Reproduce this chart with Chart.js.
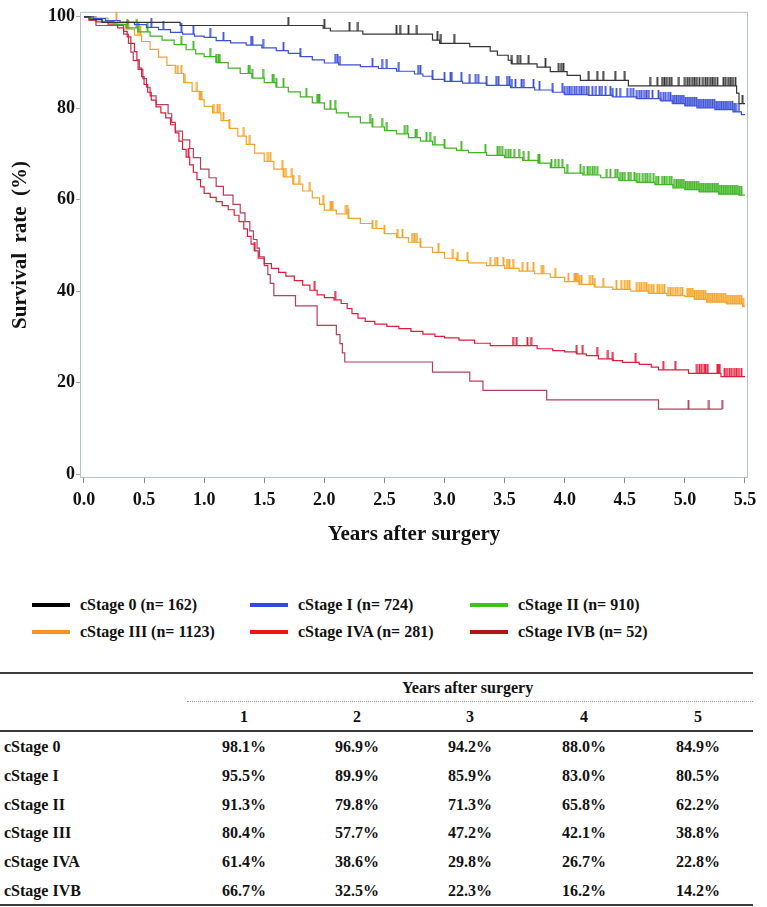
<!DOCTYPE html>
<html>
<head>
<meta charset="utf-8">
<script src="https://cdn.jsdelivr.net/npm/chart.js@4.4.0/dist/chart.umd.min.js"></script>
<style>
  body { margin: 0; background: #fff; width: 767px; height: 907px; position: relative; overflow: hidden;
         font-family: "Liberation Serif", "Times New Roman", serif; font-weight: bold; color: #111; }
  #kmChart { position: absolute; left: 0; top: 0; }
  .lg { position: absolute; font-size: 16px; line-height: 20px; white-space: nowrap; }
  .sw { position: absolute; width: 38px; height: 4px; }
  .cell { position: absolute; font-size: 16px; line-height: 20px; white-space: nowrap; }
  .num { text-align: center; width: 113px; }
  .rule { position: absolute; left: 0; width: 753px; background: #3a3a3a; }
</style>
</head>
<body>
<canvas id="kmChart" width="767" height="560"></canvas>
<div id="legend"></div>
<div id="table"></div>
<script>
// groups
var groupNames = ["cStage 0", "cStage I", "cStage II", "cStage III", "cStage IVA", "cStage IVB"];
var groupN = [162, 724, 910, 1123, 281, 52];
var lineColors = ["#333333", "#3b4fd8", "#3db420", "#f5a326", "#e31b3b", "#b43f59"];
var legendColors = ["#000000", "#3348e6", "#40c21e", "#f8921f", "#ee1414", "#b11414"];

// axis ticks
var xTicks = [0, 0.5, 1, 1.5, 2, 2.5, 3, 3.5, 4, 4.5, 5, 5.5];
var xTickLabels = ["0.0", "0.5", "1.0", "1.5", "2.0", "2.5", "3.0", "3.5", "4.0", "4.5", "5.0", "5.5"];
var yTicks = [0, 20, 40, 60, 80, 100];
var yTickLabels = ["0", "20", "40", "60", "80", "100"];

// Kaplan-Meier steps [years, survival %]
var stage0Steps = [[0, 100], [0.05, 99.4], [0.15, 98.8], [0.8, 98.1], [1.99, 97.5], [2.05, 96.9], [2.32, 96.2],
  [2.9, 94.9], [2.96, 94.2], [3.21, 93.5], [3.38, 92.5], [3.44, 91.6], [3.53, 90.5], [3.56, 89.7], [3.77, 89.0],
  [3.88, 88.0], [4.02, 87.2], [4.13, 86.1], [4.53, 84.9], [5.43, 83.3], [5.45, 81.0], [5.5, 81.0]];
var stage1Steps = [[0, 100], [0.08, 99.6], [0.18, 99.2], [0.3, 98.8], [0.42, 98.3], [0.52, 97.7], [0.62, 97.2],
  [0.72, 96.6], [0.82, 96.2], [0.92, 95.8], [1.0, 95.5], [1.1, 94.8], [1.22, 94.3], [1.35, 93.8], [1.48, 93.2],
  [1.6, 92.6], [1.7, 92.0], [1.8, 91.3], [1.9, 90.6], [2.0, 89.9], [2.12, 89.5], [2.3, 89.1], [2.45, 88.7],
  [2.6, 88.1], [2.75, 87.5], [2.82, 87.0], [2.9, 86.3], [3.0, 85.9], [3.15, 85.5], [3.35, 85.0], [3.55, 84.5],
  [3.75, 84.0], [3.9, 83.5], [4.0, 83.0], [4.2, 82.8], [4.4, 82.5], [4.6, 82.1], [4.8, 81.6], [4.9, 81.0],
  [5.0, 80.5], [5.1, 80.1], [5.25, 79.7], [5.4, 79.2], [5.47, 78.6], [5.5, 78.6]];
var stage2Steps = [[0, 100], [0.06, 99.6], [0.15, 99.0], [0.25, 98.3], [0.35, 97.6], [0.45, 96.7], [0.55, 95.8],
  [0.65, 94.9], [0.75, 93.9], [0.85, 92.8], [0.93, 91.9], [1.0, 91.3], [1.1, 90.0], [1.2, 88.8], [1.3, 87.6],
  [1.4, 86.6], [1.5, 85.6], [1.6, 84.6], [1.7, 83.6], [1.8, 82.5], [1.9, 81.2], [2.0, 79.8], [2.1, 79.0],
  [2.2, 78.1], [2.3, 76.8], [2.4, 75.9], [2.5, 75.1], [2.6, 74.4], [2.7, 73.6], [2.8, 72.8], [2.9, 72.0],
  [3.0, 71.3], [3.1, 70.8], [3.2, 70.3], [3.35, 69.7], [3.5, 69.2], [3.65, 68.6], [3.78, 68.0], [3.88, 67.0],
  [4.0, 65.8], [4.15, 65.4], [4.3, 64.8], [4.45, 64.2], [4.6, 63.8], [4.75, 63.3], [4.9, 62.6], [5.0, 62.2],
  [5.12, 61.7], [5.28, 61.2], [5.45, 61.0], [5.5, 61.0]];
var stage3Steps = [[0, 100], [0.1, 99.7], [0.2, 99.2], [0.28, 98.4], [0.35, 97.3], [0.42, 96.0], [0.48, 94.6],
  [0.55, 92.9], [0.62, 91.2], [0.69, 89.4], [0.76, 87.6], [0.83, 85.6], [0.9, 83.7], [0.96, 81.9], [1.0, 80.4],
  [1.07, 79.0], [1.14, 77.3], [1.21, 75.6], [1.28, 73.9], [1.35, 72.1], [1.42, 70.2], [1.5, 68.4], [1.58, 66.7],
  [1.66, 65.0], [1.74, 63.4], [1.82, 61.9], [1.9, 60.4], [1.96, 59.0], [2.0, 57.7], [2.1, 56.9], [2.2, 55.9],
  [2.3, 54.8], [2.4, 53.7], [2.5, 52.6], [2.6, 51.7], [2.7, 50.7], [2.8, 49.6], [2.9, 48.5], [3.0, 47.2],
  [3.1, 46.7], [3.2, 46.2], [3.35, 45.6], [3.5, 45.0], [3.62, 44.4], [3.75, 43.8], [3.88, 43.0], [4.0, 42.1],
  [4.12, 41.5], [4.25, 40.9], [4.4, 40.4], [4.55, 40.0], [4.7, 39.5], [4.85, 39.0], [5.0, 38.8], [5.08, 38.2],
  [5.18, 37.6], [5.35, 37.2], [5.48, 36.6], [5.5, 36.6]];
var stage4aSteps = [[0, 100], [0.04, 99.3], [0.1, 98.9], [0.2, 98.4], [0.28, 97.6], [0.33, 96.8], [0.36, 95.6],
  [0.39, 94.2], [0.42, 92.4], [0.44, 90.6], [0.46, 88.8], [0.48, 86.9], [0.5, 85.2], [0.53, 83.5], [0.56, 81.8],
  [0.6, 80.3], [0.64, 79.0], [0.68, 77.9], [0.72, 76.4], [0.76, 74.6], [0.79, 72.8], [0.82, 71.0], [0.85, 69.3],
  [0.88, 67.6], [0.91, 66.0], [0.94, 64.4], [0.97, 62.8], [1.0, 61.4], [1.05, 60.5], [1.1, 59.6], [1.15, 58.7],
  [1.2, 57.8], [1.25, 56.6], [1.29, 55.2], [1.33, 53.6], [1.36, 52.0], [1.39, 50.3], [1.42, 48.8], [1.45, 47.2],
  [1.5, 46.0], [1.56, 45.0], [1.62, 44.1], [1.68, 43.3], [1.75, 42.3], [1.82, 41.3], [1.88, 40.2], [1.94, 39.2],
  [2.0, 38.6], [2.08, 38.1], [2.14, 37.3], [2.19, 36.2], [2.23, 35.1], [2.28, 34.1], [2.34, 33.4], [2.42, 32.8],
  [2.52, 32.3], [2.62, 31.8], [2.72, 31.2], [2.82, 30.6], [2.92, 30.1], [3.0, 29.8], [3.12, 29.3], [3.25, 28.6],
  [3.38, 28.1], [3.77, 27.4], [3.9, 27.0], [4.0, 26.7], [4.1, 26.3], [4.18, 25.9], [4.28, 25.2], [4.4, 24.8],
  [4.48, 24.4], [4.62, 24.0], [4.72, 23.4], [4.78, 22.8], [5.03, 22.0], [5.3, 21.3], [5.5, 21.3]];
var stage4bSteps = [[0, 100], [0.1, 98.1], [0.33, 96.2], [0.37, 94.2], [0.39, 92.3], [0.41, 90.4], [0.45, 88.5],
  [0.49, 86.5], [0.52, 84.6], [0.55, 82.7], [0.6, 80.8], [0.7, 78.8], [0.73, 76.9], [0.76, 75.0], [0.82, 73.1],
  [0.88, 71.2], [0.91, 69.2], [0.97, 66.7], [1.04, 64.8], [1.1, 62.9], [1.16, 61.0], [1.24, 59.0], [1.3, 57.1],
  [1.34, 55.2], [1.38, 53.2], [1.41, 51.3], [1.44, 49.4], [1.46, 47.5], [1.5, 45.6], [1.53, 43.6], [1.55, 41.7],
  [1.58, 39.0], [1.76, 36.8], [1.94, 32.5], [2.1, 30.5], [2.13, 28.5], [2.15, 26.5], [2.17, 24.5], [2.9, 22.3],
  [3.21, 20.3], [3.32, 18.3], [3.85, 16.2], [4.78, 14.2], [5.31, 14.2]];

// censoring marks (years)
var stage0Censor = [1.70, 2.00, 2.21, 2.28, 2.60, 2.63, 2.70, 2.77, 2.94, 2.97, 3.08, 3.56, 3.61, 3.63, 3.70, 3.84,
  3.95, 3.97, 3.99, 4.20, 4.27, 4.32, 4.42, 4.50, 4.71, 4.77, 4.81, 4.83, 4.85, 4.87, 4.89, 4.95, 5.00, 5.02, 5.04,
  5.06, 5.08, 5.10, 5.12, 5.15, 5.17, 5.19, 5.21, 5.23, 5.25, 5.27, 5.32, 5.34, 5.36, 5.38, 5.40, 5.42, 5.48];
var stage1Censor = [0.56, 0.66, 0.81, 0.91, 1.05, 1.16, 1.39, 1.40, 1.49, 1.66, 1.80, 2.09, 2.11, 2.13, 2.40, 2.48,
  2.52, 2.62, 2.78, 2.80, 2.90, 3.00, 3.05, 3.06, 3.14, 3.21, 3.26, 3.28, 3.35, 3.43, 3.45, 3.52, 3.54, 3.56, 3.59,
  3.64, 3.66, 3.74, 3.79, 3.90, 3.98, 4.00, 4.02, 4.04, 4.06, 4.08, 4.10, 4.12, 4.14, 4.16, 4.18, 4.20, 4.23, 4.26,
  4.29, 4.31, 4.34, 4.38, 4.40, 4.43, 4.46, 4.52, 4.55, 4.57, 4.60, 4.62, 4.64, 4.66, 4.68, 4.70, 4.73, 4.78, 4.80,
  4.82, 4.84, 4.86, 4.88, 4.90, 4.915, 4.93, 4.945, 4.96, 4.975, 4.99, 5.005, 5.02, 5.035, 5.05, 5.065, 5.08,
  5.095, 5.11, 5.125, 5.14, 5.155, 5.17, 5.185, 5.20, 5.215, 5.23, 5.245, 5.26, 5.275, 5.29, 5.305, 5.32, 5.335,
  5.35, 5.365, 5.38, 5.395, 5.41, 5.425, 5.45];
var stage2Censor = [0.36, 0.44, 0.45, 0.53, 0.81, 0.91, 1.05, 1.10, 1.12, 1.13, 1.37, 1.38, 1.40, 1.49, 1.57, 1.58,
  1.60, 1.66, 1.85, 1.94, 1.95, 1.96, 2.05, 2.09, 2.38, 2.40, 2.48, 2.52, 2.67, 2.69, 2.76, 2.77, 2.85, 2.88, 2.92,
  3.00, 3.14, 3.34, 3.44, 3.46, 3.48, 3.51, 3.53, 3.55, 3.58, 3.62, 3.66, 3.70, 3.78, 3.79, 3.89, 3.92, 3.95, 3.98,
  4.02, 4.13, 4.16, 4.19, 4.21, 4.23, 4.25, 4.27, 4.35, 4.38, 4.42, 4.44, 4.46, 4.48, 4.50, 4.53, 4.55, 4.58, 4.60,
  4.62, 4.65, 4.67, 4.69, 4.71, 4.74, 4.76, 4.78, 4.81, 4.83, 4.85, 4.87, 4.89, 4.91, 4.93, 4.945, 4.96, 4.975,
  4.99, 5.005, 5.02, 5.035, 5.05, 5.065, 5.08, 5.095, 5.11, 5.125, 5.14, 5.155, 5.17, 5.185, 5.20, 5.215, 5.23,
  5.245, 5.26, 5.275, 5.29, 5.305, 5.32, 5.335, 5.35, 5.365, 5.38, 5.395, 5.41, 5.425, 5.44, 5.455, 5.47];
var stage3Censor = [0.27, 0.36, 0.37, 0.45, 0.47, 0.78, 0.81, 0.84, 0.94, 0.97, 0.98, 1.08, 1.11, 1.13, 1.16, 1.21,
  1.33, 1.38, 1.53, 1.55, 1.65, 1.66, 1.68, 1.73, 1.74, 1.79, 1.88, 1.99, 2.05, 2.06, 2.07, 2.18, 2.19, 2.20, 2.40,
  2.43, 2.50, 2.61, 2.65, 2.73, 2.75, 2.77, 2.80, 2.95, 3.07, 3.11, 3.19, 3.38, 3.42, 3.44, 3.49, 3.52, 3.54, 3.57,
  3.65, 3.69, 3.74, 3.81, 3.82, 3.92, 4.03, 4.08, 4.09, 4.10, 4.11, 4.12, 4.14, 4.21, 4.23, 4.25, 4.32, 4.43, 4.47,
  4.50, 4.52, 4.54, 4.60, 4.62, 4.64, 4.66, 4.68, 4.70, 4.72, 4.74, 4.77, 4.79, 4.81, 4.83, 4.86, 4.88, 4.90, 4.92,
  4.94, 4.96, 4.98, 5.02, 5.035, 5.05, 5.065, 5.08, 5.095, 5.11, 5.125, 5.14, 5.155, 5.17, 5.185, 5.20, 5.215,
  5.23, 5.245, 5.26, 5.275, 5.29, 5.305, 5.32, 5.335, 5.35, 5.365, 5.38, 5.395, 5.41, 5.425, 5.44, 5.455, 5.47, 5.485];
var stage4aCensor = [0.87, 1.42, 1.92, 2.09, 3.57, 3.60, 3.69, 3.72, 4.10, 4.15, 4.27, 4.36, 4.40, 4.59, 4.82,
  4.92, 5.10, 5.12, 5.14, 5.16, 5.17, 5.19, 5.27, 5.28, 5.29, 5.33, 5.35, 5.37, 5.39, 5.41, 5.43, 5.45, 5.47];
var stage4bCensor = [5.03, 5.20, 5.31];

// table: survival (%) at 1-5 years
var tableYears = [1, 2, 3, 4, 5];
var rateStage0 = [98.1, 96.9, 94.2, 88.0, 84.9];
var rateStage1 = [95.5, 89.9, 85.9, 83.0, 80.5];
var rateStage2 = [91.3, 79.8, 71.3, 65.8, 62.2];
var rateStage3 = [80.4, 57.7, 47.2, 42.1, 38.8];
var rateStage4a = [61.4, 38.6, 29.8, 26.7, 22.8];
var rateStage4b = [66.7, 32.5, 22.3, 16.2, 14.2];

var allSteps = [stage0Steps, stage1Steps, stage2Steps, stage3Steps, stage4aSteps, stage4bSteps];
var allCensor = [stage0Censor, stage1Censor, stage2Censor, stage3Censor, stage4aCensor, stage4bCensor];
var allRates = [rateStage0, rateStage1, rateStage2, rateStage3, rateStage4a, rateStage4b];

function levelAt(steps, t) {
  var v = steps[0][1];
  for (var i = 0; i < steps.length; i++) { if (steps[i][0] <= t + 1e-9) v = steps[i][1]; }
  return v;
}

// small vertical tick, drawn upward from the point
function tickMark(color) {
  var c = document.createElement("canvas");
  c.width = 3; c.height = 18;
  var g = c.getContext("2d");
  g.fillStyle = color;
  g.fillRect(0.6, 0, 1.8, 9);
  return c;
}

var datasets = [];
for (var k = 0; k < allSteps.length; k++) {
  datasets.push({
    label: groupNames[k],
    data: allSteps[k],
    borderColor: lineColors[k],
    borderWidth: 1.2,
    stepped: true,
    pointRadius: 0,
    fill: false
  });
  datasets.push({
    label: groupNames[k] + " censored",
    data: allCensor[k].map(function (t) { return [t, levelAt(allSteps[k], t)]; }),
    showLine: false,
    pointStyle: tickMark(lineColors[k]),
    pointRadius: 2
  });
}

var framePlugin = {
  id: "frame",
  beforeDatasetsDraw: function (chart) {
    var a = chart.chartArea, ctx = chart.ctx;
    ctx.save();
    ctx.strokeStyle = "#b4c5c9";
    ctx.lineWidth = 1;
    ctx.strokeRect(a.left + 0.5, a.top + 0.5, a.right - a.left - 1, a.bottom - a.top - 1);
    ctx.restore();
  }
};

Chart.defaults.font.family = "'Liberation Serif', 'Times New Roman', serif";
Chart.defaults.font.weight = "bold";
Chart.defaults.color = "#111";

var kmChart = new Chart(document.getElementById("kmChart"), {
  type: "line",
  data: { datasets: datasets },
  options: {
    responsive: false,
    animation: false,
    events: [],
    layout: { padding: { left: 0, right: 19, top: 9, bottom: 0 } },
    plugins: { legend: { display: false }, tooltip: { enabled: false } },
    scales: {
      x: {
        type: "linear", position: "bottom", min: -0.033, max: 5.525,
        afterBuildTicks: function (s) { s.ticks = xTicks.map(function (v) { return { value: v }; }); },
        afterFit: function (s) { s.height = 82; },
        ticks: { autoSkip: false, maxRotation: 0, padding: 7, font: { size: 18, weight: "bold" },
                 callback: function (v, i) { return xTickLabels[i]; } },
        grid: { drawOnChartArea: false, drawTicks: true, tickLength: 5, color: "#7f8c90" },
        border: { display: false },
        title: { display: true, text: "Years after surgery", font: { size: 21, weight: "bold" },
                 padding: { top: 0, bottom: 13 } }
      },
      y: {
        type: "linear", position: "left", min: -0.87, max: 101.1,
        afterBuildTicks: function (s) { s.ticks = yTicks.map(function (v) { return { value: v }; }); },
        afterFit: function (s) { s.width = 80; },
        ticks: { autoSkip: false, padding: 1, font: { size: 18, weight: "bold" },
                 callback: function (v, i) { return yTickLabels[i]; } },
        grid: { drawOnChartArea: false, drawTicks: true, tickLength: 4, color: "#9aaab0" },
        border: { display: false },
        title: { display: true, text: "Survival  rate  (%)", font: { size: 21, weight: "bold" },
                 padding: { top: 8, bottom: 0 } }
      }
    }
  },
  plugins: [framePlugin]
});

// legend, 3 columns x 2 rows
var legendBox = document.getElementById("legend");
var legendCols = [32, 250, 470];
var legendRows = [604.5, 631.5];
groupNames.forEach(function (name, i) {
  var cx = legendCols[i % 3], cy = legendRows[Math.floor(i / 3)];
  var sw = document.createElement("div");
  sw.className = "sw";
  sw.style.left = cx + "px"; sw.style.top = (cy - 2) + "px"; sw.style.background = legendColors[i];
  legendBox.appendChild(sw);
  var tx = document.createElement("div");
  tx.className = "lg";
  tx.style.left = (cx + 48) + "px"; tx.style.top = (cy - 10) + "px";
  tx.textContent = name + " (n= " + groupN[i] + ")";
  legendBox.appendChild(tx);
});

// survival table
var tbl = document.getElementById("table");
function addRule(y, h, left, width, style) {
  var r = document.createElement("div");
  r.className = "rule";
  r.style.top = y + "px"; r.style.height = h + "px";
  if (left !== undefined) { r.style.left = left + "px"; r.style.width = width + "px"; }
  if (style) { r.style.background = "none"; r.style.borderTop = style; r.style.height = "0"; }
  tbl.appendChild(r);
}
function addCell(text, x, cy, cls) {
  var d = document.createElement("div");
  d.className = "cell" + (cls ? " " + cls : "");
  d.style.left = x + "px"; d.style.top = (cy - 10) + "px";
  d.textContent = text;
  tbl.appendChild(d);
}
var colLeft = [187.5, 300.5, 413.5, 527.5, 641.5];
addRule(672, 2);
addCell("Years after surgery", 402, 688);
addRule(701, 1, 187, 566, "1px dotted #9a9a9a");
tableYears.forEach(function (y, j) { addCell(String(y), colLeft[j], 717, "num"); });
addRule(730, 2);
allRates.forEach(function (row, i) {
  var cy = 747 + i * 28.8;
  addCell(groupNames[i], 4, cy);
  row.forEach(function (v, j) { addCell(v.toFixed(1) + "%", colLeft[j], cy, "num"); });
});
addRule(904, 2);
</script>
</body>
</html>
